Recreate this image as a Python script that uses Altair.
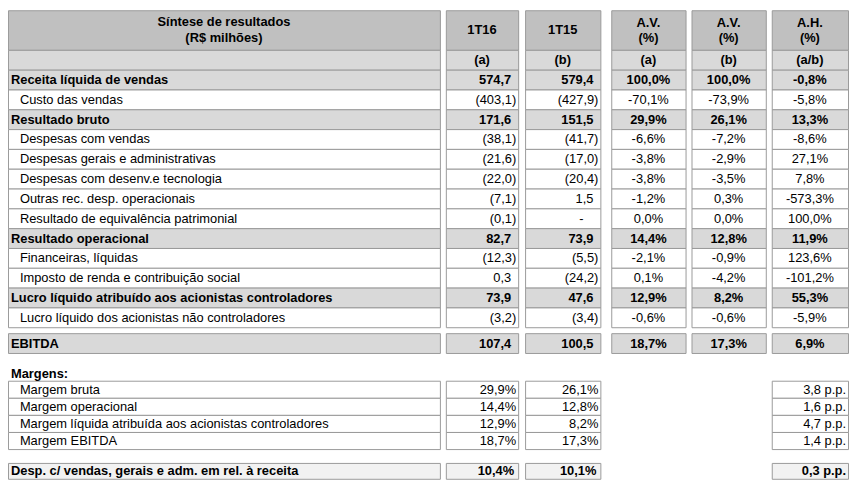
import altair as alt
import pandas as pd

# ---------------- data ----------------
row_labels = [
    "Receita líquida de vendas",
    "Custo das vendas",
    "Resultado bruto",
    "Despesas com vendas",
    "Despesas gerais e administrativas",
    "Despesas com desenv.e tecnologia",
    "Outras rec. desp. operacionais",
    "Resultado de equivalência patrimonial",
    "Resultado operacional",
    "Financeiras, líquidas",
    "Imposto de renda e contribuição social",
    "Lucro líquido atribuído aos acionistas controladores",
    "Lucro líquido dos acionistas não controladores",
    "EBITDA",
]
v_1t16 = [574.7, -403.1, 171.6, -38.1, -21.6, -22.0, -7.1, -0.1, 82.7, -12.3, 0.3, 73.9, -3.2, 107.4]
v_1t15 = [579.4, -427.9, 151.5, -41.7, -17.0, -20.4, 1.5, None, 73.9, -5.5, -24.2, 47.6, -3.4, 100.5]
av_a = [100.0, -70.1, 29.9, -6.6, -3.8, -3.8, -1.2, 0.0, 14.4, -2.1, 0.1, 12.9, -0.6, 18.7]
av_b = [100.0, -73.9, 26.1, -7.2, -2.9, -3.5, 0.3, 0.0, 12.8, -0.9, -4.2, 8.2, -0.6, 17.3]
ah_ab = [-0.8, -5.8, 13.3, -8.6, 27.1, 7.8, -573.3, 100.0, 11.9, 123.6, -101.2, 55.3, -5.9, 6.9]
bold_rows = {"Receita líquida de vendas", "Resultado bruto", "Resultado operacional",
             "Lucro líquido atribuído aos acionistas controladores", "EBITDA"}

header_title = ["Síntese de resultados", "(R$ milhões)"]
col_heads = [["1T16"], ["1T15"], ["A.V.", "(%)"], ["A.V.", "(%)"], ["A.H.", "(%)"]]
col_subs = ["(a)", "(b)", "(a)", "(b)", "(a/b)"]

margens_title = "Margens:"
margem_labels = ["Margem bruta", "Margem operacional",
                 "Margem líquida atribuída aos acionistas controladores", "Margem EBITDA"]
m_1t16 = [29.9, 14.4, 12.9, 18.7]
m_1t15 = [26.1, 12.8, 8.2, 17.3]
m_ah = [3.8, 1.6, 4.7, 1.4]

desp_label = "Desp. c/ vendas, gerais e adm. em rel. à receita"
desp_vals = [10.4, 10.1, 0.3]

# ---------------- formatting ----------------
def dec(v):
    return f"{v:.1f}".replace(".", ",")

def fmt_num(v):
    if v is None:
        return "-"
    return f"({dec(-v)})" if v < 0 else dec(v)

def fmt_pct(v):
    return dec(v) + "%"

def fmt_pp(v):
    return dec(v) + " p.p."

# ---------------- layout ----------------
cols = [(5, 441), (447, 520), (527, 603), (614, 689), (695, 770), (776, 853)]
HEAD = (5, 45)
SUB = (45, 65)
ROW0, ROWH = 65, 20
EBITDA_Y = (331, 351)
MARG_LABEL_Y = 372
MARG0, MARGH = 379, 17.25
DESP_Y = (462, 478)

C_HEAD = "#c0c0c0"
C_GRAY = "#d9d9d9"
C_LIGHT = "#f2f2f2"
C_WHITE = "#ffffff"
STROKE = "#9a9a9a"

cells = []
def cell(c, y0, y1, fill):
    x0, x1 = cols[c]
    cells.append({"x": x0 + 0.5, "x2": x1 + 0.5, "y": y0 + 0.5, "y2": y1 + 0.5, "fill": fill})

texts = []
def txt(x, y, t, align, weight):
    texts.append({"x": x, "y": y, "t": t, "align": align, "weight": weight})

# header
for c in range(6):
    cell(c, HEAD[0], HEAD[1], C_HEAD)
    cell(c, SUB[0], SUB[1], C_GRAY)
cx0 = (cols[0][0] + cols[0][1]) / 2
txt(cx0, 17, header_title[0], "center", "bold")
txt(cx0, 33, header_title[1], "center", "bold")
for i, heads in enumerate(col_heads):
    c = i + 1
    cx = (cols[c][0] + cols[c][1]) / 2
    if len(heads) == 1:
        txt(cx, 25, heads[0], "center", "bold")
    else:
        txt(cx, 18, heads[0], "center", "bold")
        txt(cx, 33, heads[1], "center", "bold")
    txt(cx, 55.5, col_subs[i], "center", "bold")

# main rows
for i, lab in enumerate(row_labels):
    if lab == "EBITDA":
        y0, y1 = EBITDA_Y
    else:
        y0, y1 = ROW0 + ROWH * i, ROW0 + ROWH * (i + 1)
    bold = lab in bold_rows
    w = "bold" if bold else "normal"
    fill = C_GRAY if bold else C_WHITE
    for c in range(6):
        cell(c, y0, y1, fill)
    yc = (y0 + y1) / 2 + 0.5
    txt(cols[0][0] + (3 if bold else 12), yc, lab, "left", w)
    for c, v in ((1, v_1t16[i]), (2, v_1t15[i])):
        s = fmt_num(v)
        pad = 2 if s.endswith(")") else (17 if s == "-" else 7)
        txt(cols[c][1] - pad, yc, s, "right", w)
    for c, v in ((3, av_a[i]), (4, av_b[i]), (5, ah_ab[i])):
        txt((cols[c][0] + cols[c][1]) / 2, yc, fmt_pct(v), "center", w)

# margins
txt(cols[0][0] + 3, MARG_LABEL_Y, margens_title, "left", "bold")
for i, lab in enumerate(margem_labels):
    y0 = MARG0 + MARGH * i
    y1 = y0 + MARGH
    for c in (0, 1, 2, 5):
        cell(c, y0, y1, C_WHITE)
    yc = (y0 + y1) / 2 + 0.5
    txt(cols[0][0] + 12, yc, lab, "left", "normal")
    txt(cols[1][1] - 2, yc, fmt_pct(m_1t16[i]), "right", "normal")
    txt(cols[2][1] - 2, yc, fmt_pct(m_1t15[i]), "right", "normal")
    txt(cols[5][1] - 2, yc, fmt_pp(m_ah[i]), "right", "normal")

# desp row
for c in (0, 1, 2, 5):
    cell(c, DESP_Y[0], DESP_Y[1], C_LIGHT)
yc = (DESP_Y[0] + DESP_Y[1]) / 2 + 0.5
txt(cols[0][0] + 3, yc, desp_label, "left", "bold")
txt(cols[1][1] - 4, yc, fmt_pct(desp_vals[0]), "right", "bold")
txt(cols[2][1] - 4, yc, fmt_pct(desp_vals[1]), "right", "bold")
txt(cols[5][1] - 2, yc, fmt_pp(desp_vals[2]), "right", "bold")

# ---------------- chart ----------------
W, H = 850, 476
xs = alt.Scale(domain=[5, 5 + W], range=[0, W], nice=False, zero=False)
ys = alt.Scale(domain=[5, 5 + H], range=[0, H], nice=False, zero=False)

cell_df = pd.DataFrame(cells)
rects = alt.Chart(cell_df).mark_rect(stroke=STROKE, strokeWidth=1).encode(
    x=alt.X("x:Q", scale=xs, axis=None),
    x2="x2:Q",
    y=alt.Y("y:Q", scale=ys, axis=None),
    y2="y2:Q",
    fill=alt.Fill("fill:N", scale=None),
)

text_df = pd.DataFrame(texts)
layers = [rects]
for (al, wt), sub in text_df.groupby(["align", "weight"]):
    layers.append(
        alt.Chart(sub).mark_text(
            align=al, baseline="middle", fontWeight=wt,
            font="Liberation Sans, Arial", fontSize=13, color="#000000",
        ).encode(
            x=alt.X("x:Q", scale=xs, axis=None),
            y=alt.Y("y:Q", scale=ys, axis=None),
            text="t:N",
        )
    )

chart = alt.layer(*layers).properties(
    width=W, height=H, padding=0, autosize=alt.AutoSizeParams(type="none"),
    background="#ffffff",
).configure_view(stroke=None)

chart.save("out.html", embed_options={"renderer": "svg", "actions": False})
